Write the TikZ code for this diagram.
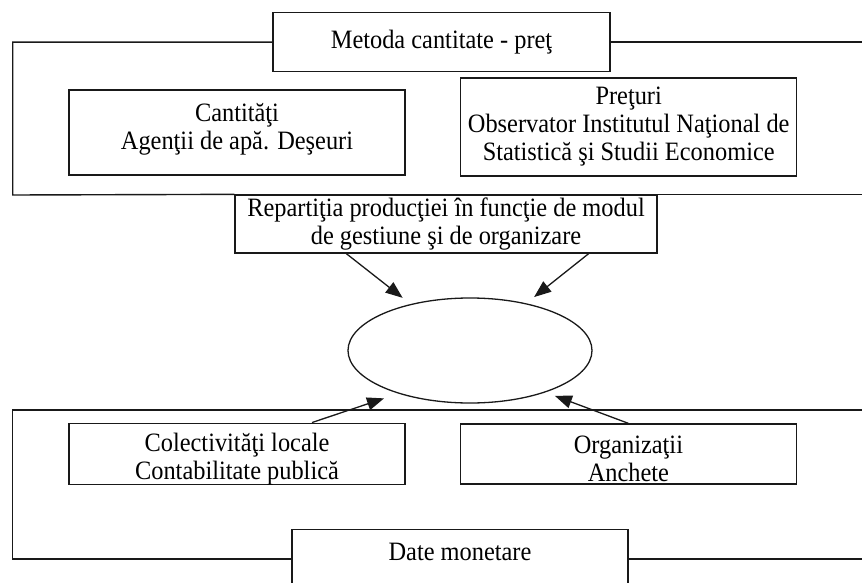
\documentclass[tikz,border=0pt]{standalone}
\usepackage{fontspec}
\setmainfont[FakeStretch=0.92]{Liberation Serif}
\usetikzlibrary{positioning,arrows.meta,shapes.geometric}
\tikzset{%
  infoBlock/.style={
    rectangle, draw=black!90, line width=1.3pt, inner sep=0pt,
    minimum width=336pt, align=center,
    font=\fontsize{26.5}{28}\selectfont},
  ovalBlock/.style={
    ellipse, draw=black!90, line width=1.3pt, inner sep=0pt,
    minimum width=244pt, minimum height=105pt},
  frameLine/.style={line width=1.4pt, black!90},
  arrowThick/.style={-{Triangle[length=17pt,width=13pt]}, line width=1.3pt, black!90},
}

\begin{document}
\begin{tikzpicture}[x=1pt, y=-1pt]
  \useasboundingbox (0,0) rectangle (862,583);
  \clip (0,0) rectangle (862,583);

  % upper group: quantities and prices
  \node[infoBlock, minimum width=337pt, minimum height=59pt] (metoda) at (441.5,42.2) {Metoda cantitate - preţ};
  \node[infoBlock, minimum height=85pt] (cant) at (237,132.5) {Cantităţi\\Agenţii de apă. Deşeuri\rule[-12pt]{0pt}{0pt}};
  \node[infoBlock, minimum height=98pt] (pret) at (628.7,127) {Preţuri\\Observator Institutul Naţional de\\Statistică şi Studii Economice};
  \node[infoBlock, minimum width=422pt, minimum height=58pt] (repart) at (446,224) {Repartiţia producţiei în funcţie de modul\\de gestiune şi de organizare};

  \node[ovalBlock] (oval) at (470,350.5) {};

  % lower group: monetary data
  \node[infoBlock, minimum height=60pt] (colect) at (237,454) {\rule{0pt}{28pt}Colectivităţi locale\\Contabilitate publică};
  \node[infoBlock, minimum height=60pt] (organiz) at (628.4,454) {\rule{0pt}{28pt}Organizaţii\\Anchete};
  \node[infoBlock, anchor=north, minimum height=80pt, text height=18pt, text depth=36pt] (monetare) at (460,529) {Date monetare};

  \coordinate (topLeft) at (12.7,42.2);
  \coordinate (midLeft) at (12.7,195);
  \coordinate (lowLeft) at (12.7,410);
  \coordinate (botLeft) at (12.7,559);
  \coordinate (rEdge)   at (870,0);

  \draw[frameLine] (metoda.west) -- (topLeft) -- (midLeft) -- (repart.north west);
  \draw[frameLine] (metoda.east) -- (metoda.east -| rEdge);
  \draw[frameLine] (repart.north east) -- (repart.north east -| rEdge);
  \draw[frameLine] (lowLeft -| rEdge) -- (lowLeft) -- (botLeft) -- (botLeft -| monetare.west);
  \draw[frameLine] (botLeft -| monetare.east) -- (botLeft -| rEdge);

  \draw[arrowThick, shorten >=10pt] ([xshift=112pt]repart.south west) -- (oval.142);
  \draw[arrowThick, shorten >=10pt] ([xshift=-69pt]repart.south east) -- (oval.40.5);
  \draw[arrowThick, shorten >=15pt] ([xshift=75pt]colect.north) -- (oval.211);
  \draw[arrowThick, shorten >=10pt] (organiz.north) -- (oval.331);
\end{tikzpicture}
\end{document}
